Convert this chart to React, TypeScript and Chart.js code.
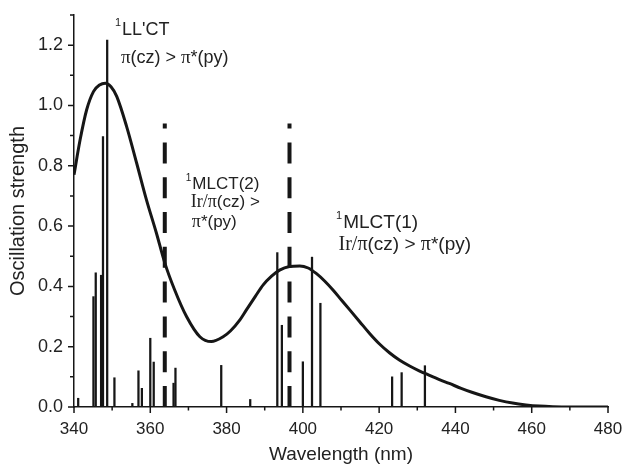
import React, { useEffect, useRef } from "react";
import { Chart, registerables } from "chart.js";

Chart.register(...registerables);

// Stick spectrum (calculated transitions)
const stickWavelengths = [341.1, 345.1, 345.7, 347.1, 347.6, 348.7, 350.6, 355.3, 356.9, 357.8, 360.0, 360.9, 366.1, 366.6, 378.6, 386.2, 393.3, 394.5, 400.0, 402.4, 404.6, 423.4, 425.9, 432.0];
const stickStrengths = [0.029, 0.366, 0.445, 0.437, 0.897, 1.217, 0.097, 0.012, 0.12, 0.062, 0.228, 0.149, 0.079, 0.129, 0.138, 0.025, 0.512, 0.271, 0.15, 0.497, 0.344, 0.1, 0.114, 0.137];

// Broadened spectrum curve
const curveWavelengths = [340, 341.6, 343.3, 345.1, 346.7, 348.2, 349.7, 351.2, 353.8, 356.4, 359.0, 361.6, 363.8, 366.4, 369.5, 373.0, 376.0, 379.1, 381.0, 383.5, 385.2, 387.5, 389.6, 391.8, 393.9, 396.5, 399.2, 401.4, 403.5, 405.7, 407.9, 410.1, 412.3, 414.9, 417.5, 420.1, 422.7, 425.3, 428.0, 430.5, 433.2, 435.8, 438.4, 441.5, 444.5, 448.0, 451.5, 455.0, 458.5, 462.0, 465.5, 470.0, 475.0, 480.0];
const curveStrengths = [0.77, 0.886, 0.985, 1.046, 1.068, 1.074, 1.062, 1.03, 0.93, 0.81, 0.687, 0.577, 0.478, 0.388, 0.30, 0.233, 0.217, 0.233, 0.252, 0.289, 0.322, 0.366, 0.405, 0.434, 0.454, 0.466, 0.468, 0.461, 0.443, 0.418, 0.388, 0.355, 0.322, 0.283, 0.244, 0.209, 0.18, 0.156, 0.136, 0.12, 0.105, 0.091, 0.078, 0.062, 0.048, 0.034, 0.022, 0.013, 0.007, 0.003, 0.001, 0.0, 0.0, 0.0];

// Dashed marker lines
const markerWavelengths = [363.8, 396.5];
const markerTop = 0.94;

// Axis settings
const xMin = 340;
const xMax = 480;
const xMajorStep = 20;
const xMinorStep = 10;
const yMin = 0;
const yMax = 1.3;
const yMajorStep = 0.2;
const yMinorStep = 0.1;

const SANS = "'Liberation Sans', Arial, sans-serif";
const SERIF = "'Liberation Serif', 'Times New Roman', serif";
const INK = "#161616";
const TEXT = "#222222";

type Seg = [string, "sans" | "serif" | "sup"];
type Line = { dx: number; dy: number; segs: Seg[] };
type Note = { x: number; y: number; size: number; lines: Line[] };

const notes: Note[] = [
  {
    x: 350.73,
    y: 1.234,
    size: 18,
    lines: [
      { dx: 0, dy: 0, segs: [["1", "sup"], ["LL'CT", "sans"]] },
      { dx: 6, dy: 28, segs: [["\u03c0", "serif"], ["(cz) > ", "sans"], ["\u03c0", "serif"], ["*(py)", "sans"]] },
    ],
  },
  {
    x: 369.31,
    y: 0.722,
    size: 17,
    lines: [
      { dx: 0, dy: 0, segs: [["1", "sup"], ["MLCT(2)", "sans"]] },
      { dx: 5, dy: 18, segs: [["Ir/\u03c0", "serif"], ["(cz) >", "sans"]] },
      { dx: 6, dy: 37.5, segs: [["\u03c0", "serif"], ["*(py)", "sans"]] },
    ],
  },
  {
    x: 408.7,
    y: 0.593,
    size: 19,
    lines: [
      { dx: 0, dy: 0, segs: [["1", "sup"], ["MLCT(1)", "sans"]] },
      { dx: 2.5, dy: 22, segs: [["Ir/\u03c0", "serif"], ["(cz) > ", "sans"], ["\u03c0", "serif"], ["*(py)", "sans"]] },
    ],
  },
];

const tickPlugin = {
  id: "customTicks",
  afterDraw(chart: any) {
    const { ctx, chartArea } = chart;
    const xs = chart.scales.x;
    const ys = chart.scales.y;
    ctx.save();
    ctx.strokeStyle = INK;
    ctx.lineWidth = 1.5;
    ctx.beginPath();
    for (let v = xMin; v <= xMax + 1e-6; v += xMinorStep) {
      const px = xs.getPixelForValue(v);
      const r = (v - xMin) / xMajorStep;
      const major = Math.abs(r - Math.round(r)) < 1e-6;
      const len = major ? 6 : 3.5;
      ctx.moveTo(px, chartArea.bottom);
      ctx.lineTo(px, chartArea.bottom + len);
    }
    const n = Math.round((yMax - yMin) / yMinorStep);
    for (let k = 0; k <= n; k++) {
      const v = yMin + k * yMinorStep;
      const py = ys.getPixelForValue(v);
      const r = v / yMajorStep;
      const major = Math.abs(r - Math.round(r)) < 1e-6;
      const len = major ? 6 : 4;
      ctx.moveTo(chartArea.left - len, py);
      ctx.lineTo(chartArea.left, py);
    }
    ctx.stroke();

    // annotations
    ctx.fillStyle = TEXT;
    ctx.textBaseline = "alphabetic";
    ctx.textAlign = "left";
    for (const note of notes) {
      const bx = xs.getPixelForValue(note.x);
      const by = ys.getPixelForValue(note.y);
      for (const line of note.lines) {
        let cx = bx + line.dx;
        const baseY = by + line.dy;
        for (const [t, kind] of line.segs) {
          let yOff = 0;
          if (kind === "sup") {
            ctx.font = `${Math.round(note.size * 0.6)}px ${SANS}`;
            yOff = -note.size * 0.47;
          } else if (kind === "serif") {
            ctx.font = `${note.size + 1}px ${SERIF}`;
          } else {
            ctx.font = `${note.size}px ${SANS}`;
          }
          ctx.fillText(t, cx, baseY + yOff);
          cx += ctx.measureText(t).width + (kind === "sup" ? 1 : 0);
        }
      }
    }
    ctx.restore();
  },
};

export default function App() {
  const ref = useRef<HTMLCanvasElement | null>(null);

  useEffect(() => {
    if (!ref.current) return;
    const sticks = stickWavelengths.map((x, i) => ({ x, y: stickStrengths[i] }));
    const curve = curveWavelengths.map((x, i) => ({ x, y: curveStrengths[i] }));
    const markers = markerWavelengths.map((w) => ({
      type: "line" as const,
      label: `marker ${w}`,
      data: [
        { x: w, y: 0 },
        { x: w, y: markerTop },
      ],
      borderColor: INK,
      borderWidth: 4,
      borderDash: [21, 13.8],
      borderCapStyle: "butt" as const,
      pointRadius: 0,
      fill: false,
      order: 1,
    }));

    const chart = new Chart(ref.current, {
      type: "bar",
      data: {
        datasets: [
          {
            type: "line",
            label: "Spectrum",
            data: curve,
            borderColor: INK,
            borderWidth: 3,
            pointRadius: 0,
            cubicInterpolationMode: "monotone",
            fill: false,
            order: 0,
          } as any,
          ...(markers as any[]),
          {
            type: "bar",
            label: "Oscillator strengths",
            data: sticks,
            backgroundColor: INK,
            borderWidth: 0,
            barThickness: 1.6,
            order: 2,
          } as any,
        ],
      },
      options: {
        responsive: true,
        maintainAspectRatio: false,
        animation: false,
        layout: { padding: { left: 0, right: 14, top: 15, bottom: 0 } },
        plugins: {
          legend: { display: false },
          tooltip: { enabled: false },
        },
        scales: {
          x: {
            type: "linear",
            min: xMin,
            max: xMax,
            offset: false,
            grid: { display: false, drawTicks: false },
            border: { display: true, color: INK, width: 1.5 },
            ticks: {
              stepSize: xMajorStep,
              color: TEXT,
              padding: 12,
              maxRotation: 0,
              font: { family: SANS, size: 17 },
              callback: (v: any) => String(v),
            },
            title: {
              display: true,
              text: "Wavelength (nm)",
              color: TEXT,
              font: { family: SANS, size: 19 },
              padding: { top: 0, bottom: 2 },
            },
            afterFit: (s: any) => {
              s.height = 61;
              s.paddingLeft = 0;
              s.paddingRight = 0;
            },
          },
          y: {
            type: "linear",
            min: yMin,
            max: yMax,
            grid: { display: false, drawTicks: false },
            border: { display: true, color: INK, width: 1.5 },
            ticks: {
              stepSize: yMajorStep,
              color: TEXT,
              padding: 11,
              font: { family: SANS, size: 18 },
              callback: (v: any) => {
                const r = v / yMajorStep;
                return Math.abs(r - Math.round(r)) < 1e-6 ? Number(v).toFixed(1) : "";
              },
            },
            title: {
              display: true,
              text: "Oscillation strength",
              color: TEXT,
              font: { family: SANS, size: 20 },
              padding: { top: 6, bottom: 0 },
            },
            afterFit: (s: any) => {
              s.width = 74;
              s.paddingTop = 0;
              s.paddingBottom = 0;
            },
          },
        },
      },
      plugins: [tickPlugin],
    });
    return () => chart.destroy();
  }, []);

  return (
    <div style={{ position: "fixed", left: 0, top: 0, width: 622, height: 468, background: "#fff" }}>
      <canvas ref={ref} />
    </div>
  );
}
